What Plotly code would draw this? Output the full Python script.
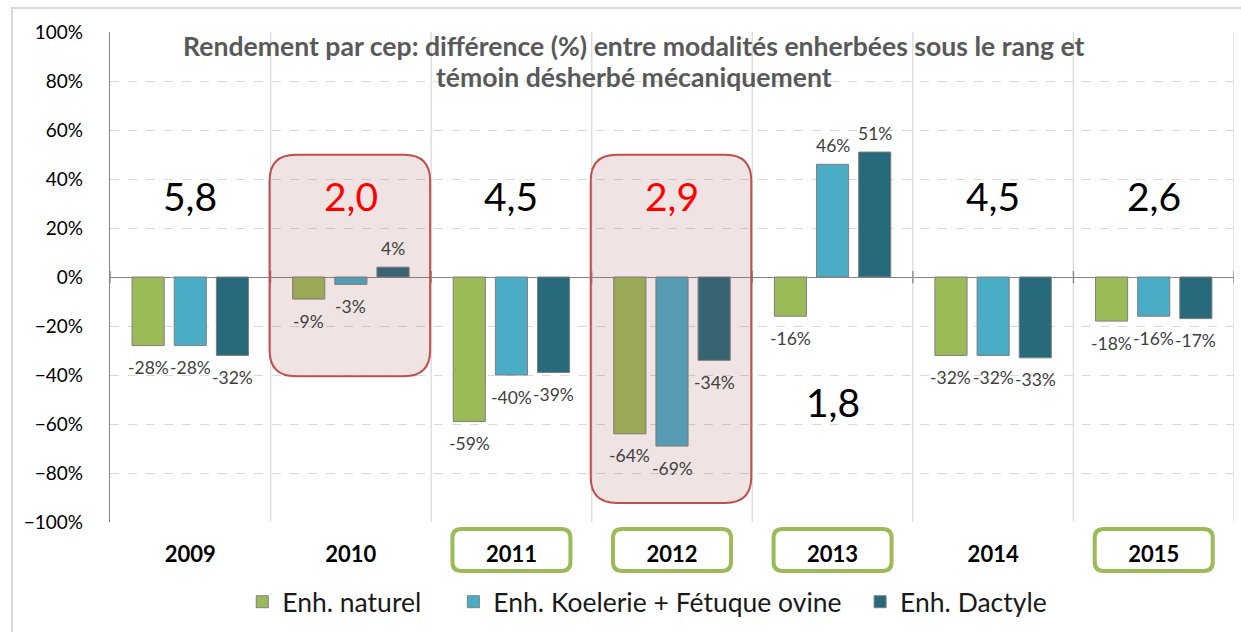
import plotly.graph_objects as go

years = ["2009", "2010", "2011", "2012", "2013", "2014", "2015"]
naturel = [-28, -9, -59, -64, -16, -32, -18]
koelerie = [-28, -3, -40, -69, 46, -32, -16]
dactyle = [-32, 4, -39, -34, 51, -33, -17]
series_names = ["Enh. naturel", "Enh. Koelerie + Fétuque ovine", "Enh. Dactyle"]
series_colors = ["#9BBB59", "#4BACC6", "#276A7C"]
big_labels = ["5,8", "2,0", "4,5", "2,9", "1,8", "4,5", "2,6"]
big_label_y = [33, 33, 33, 33, -51, 33, 33]
big_label_red = ["2010", "2012"]
pink_years = ["2010", "2012"]
green_box_years = ["2011", "2012", "2013", "2015"]
title_lines = ["Rendement par cep: différence (%) entre modalités enherbées sous le rang et",
               "témoin désherbé mécaniquement"]

FONT = "Lato"
W, H = 1241, 632
L, R, T, B = 110, 1234, 32, 523
LEGEND_PAD = ["\u00a0" * 4, "\u00a0" * 2, ""]


def px2x(px):
    return (px - L) / (R - L)


def py2y(py):
    return (B - py) / (B - T)


def rrect(x0, y0, x1, y1, r):
    def P(x, y):
        return f"{px2x(x):.5f},{py2y(y):.5f}"
    p = f"M {P(x0 + r, y0)} L {P(x1 - r, y0)} Q {P(x1, y0)} {P(x1, y0 + r)} "
    p += f"L {P(x1, y1 - r)} Q {P(x1, y1)} {P(x1 - r, y1)} "
    p += f"L {P(x0 + r, y1)} Q {P(x0, y1)} {P(x0, y1 - r)} "
    p += f"L {P(x0, y0 + r)} Q {P(x0, y0)} {P(x0 + r, y0)} Z"
    return p


fig = go.Figure()
all_series = [naturel, koelerie, dactyle]
for k, (name, vals, col) in enumerate(zip(series_names, all_series, series_colors)):
    fig.add_trace(go.Bar(
        x=years, y=vals, name=name + LEGEND_PAD[k],
        marker=dict(color=col, line=dict(color="#7F7F7F", width=1)),
        hoverinfo="skip",
    ))

BARGAP = 0.2125
slot = (1 - BARGAP) / 3
annotations = []
# data labels
for j, vals in enumerate(all_series):
    for i, v in enumerate(vals):
        annotations.append(dict(
            x=i + (j - 1) * slot, y=v, xref="x", yref="y",
            text=f"{v}%", showarrow=False,
            yanchor="middle", yshift=(19 if v >= 0 else -22),
            font=dict(family=FONT, size=17.5, color="#404040"),
        ))
# big numbers
for i, (lab, yv) in enumerate(zip(big_labels, big_label_y)):
    annotations.append(dict(
        x=i, y=yv, xref="x", yref="y", text=lab, showarrow=False,
        yanchor="middle",
        font=dict(family=FONT, size=39,
                  color="#FF0000" if years[i] in big_label_red else "#000000"),
    ))
# title
for k, line in enumerate(title_lines):
    annotations.append(dict(
        x=px2x(634), y=py2y(46 + 31 * k), xref="paper", yref="paper",
        text=f"<b>{line}</b>", showarrow=False, yanchor="middle",
        font=dict(family=FONT, size=26.6, color="#595959"),
    ))

shapes = []
# outer border
shapes.append(dict(type="rect", xref="paper", yref="paper",
                   x0=px2x(12), x1=px2x(1260), y0=py2y(8), y1=py2y(660),
                   line=dict(color="#D9D9D9", width=2), fillcolor="rgba(0,0,0,0)",
                   layer="below"))
# category dividers
for i in range(len(years)):
    shapes.append(dict(type="line", xref="x", yref="y",
                       x0=i + 0.5, x1=i + 0.5, y0=-100, y1=100,
                       line=dict(color="#D9D9D9", width=1.3), layer="between"))
# white title area
shapes.append(dict(type="rect", xref="paper", yref="paper",
                   x0=px2x(180), x1=px2x(1088), y0=py2y(94), y1=py2y(20),
                   line=dict(width=0), fillcolor="white", layer="between"))
# zero line tick marks
for i in range(len(years) + 1):
    shapes.append(dict(type="line", xref="x", yref="y",
                       x0=i - 0.5, x1=i - 0.5, y0=-2.5, y1=2.5,
                       line=dict(color="#868686", width=1.3), layer="above"))
# pink highlight boxes
cw = (R - L) / len(years)
for yr in pink_years:
    i = years.index(yr)
    x0 = L + i * cw - 1
    x1 = L + (i + 1) * cw - 1
    y1 = 377 if yr == "2010" else 504
    shapes.append(dict(type="path", xref="paper", yref="paper",
                       path=rrect(x0, 155, x1, y1, 26),
                       fillcolor="rgba(146,65,65,0.15)",
                       line=dict(color="#C0504D", width=2), layer="above"))
# green boxes around year labels
for yr in green_box_years:
    i = years.index(yr)
    cx = L + (i + 0.5) * cw
    shapes.append(dict(type="path", xref="paper", yref="paper",
                       path=rrect(cx - 59, 530, cx + 59, 572, 9),
                       fillcolor="rgba(0,0,0,0)",
                       line=dict(color="#9BBB59", width=4), layer="above"))

fig.update_layout(
    width=W, height=H,
    margin=dict(l=L, r=W - R, t=T, b=H - B, pad=0),
    paper_bgcolor="white", plot_bgcolor="white",
    barmode="group", bargap=BARGAP, bargroupgap=0.238,
    font=dict(family=FONT, color="#000000"),
    showlegend=True,
    legend=dict(orientation="h", x=0.478, xanchor="center", y=py2y(602), yanchor="middle",
                font=dict(family=FONT, size=26.5, color="#1A1A1A"),
                itemwidth=30, traceorder="normal"),
    annotations=annotations,
    shapes=shapes,
    xaxis=dict(type="category", showgrid=False, showline=False, ticks="",
               tickfont=dict(family=FONT, size=22, color="#000000", weight="bold"),
               ticklabelstandoff=17, range=[-0.5, 6.5]),
    yaxis=dict(range=[-100, 100], dtick=20, ticksuffix="%",
               showgrid=True, gridcolor="#D9D9D9", griddash="dash", gridwidth=1.3,
               zeroline=True, zerolinecolor="#868686", zerolinewidth=1.3,
               showline=True, linecolor="#868686", linewidth=1.3,
               tickfont=dict(family=FONT, size=19, color="#000000"),
               ticklabelstandoff=22, ticks=""),
)

fig.write_html("out.html", config={"displayModeBar": False},
               post_script="document.body.style.margin='0px';")
